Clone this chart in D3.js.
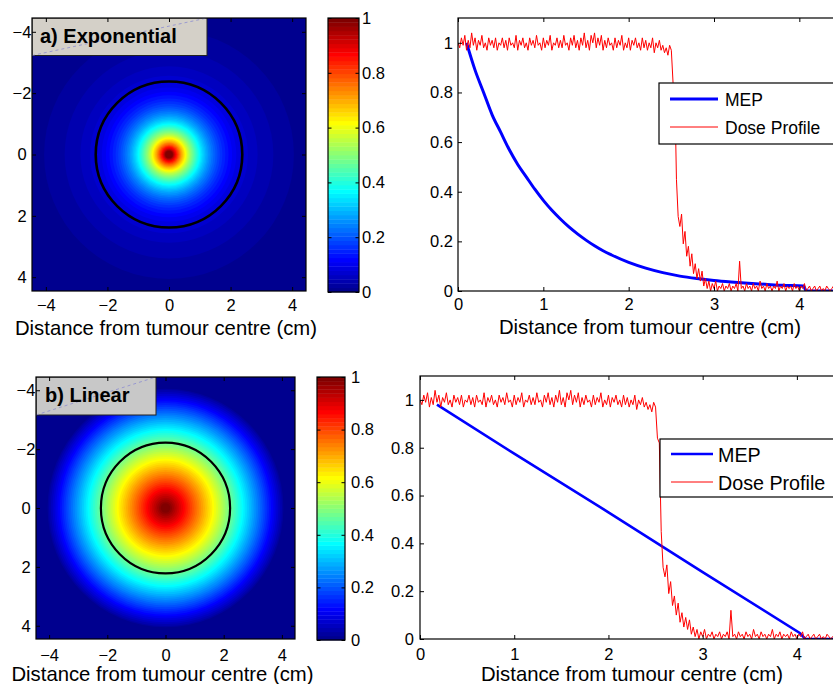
<!DOCTYPE html>
<html>
<head>
<meta charset="utf-8">
<script src="https://cdn.jsdelivr.net/npm/d3@7"></script>
<style>
  body { margin: 0; background: #fff; }
  svg { display: block; font-family: "Liberation Sans", Arial, Helvetica, sans-serif; }
</style>
</head>
<body>
<script>
// tick values
var heatTicks = [-4, -2, 0, 2, 4];
var barTicks = [0, 0.2, 0.4, 0.6, 0.8, 1];
var distTicks = [0, 1, 2, 3, 4];

// exponential MEP (radius cm, value)
var expR = [0.1, 0.2, 0.3, 0.4, 0.5, 0.6, 0.7, 0.8, 0.9, 1.0, 1.1, 1.2, 1.3, 1.4, 1.5, 1.6, 1.7, 1.8, 2.0, 2.2, 2.4, 2.6, 2.8, 3.0, 3.2, 3.4, 3.6, 3.8, 4.05, 4.08, 4.5];
var expV = [1.0, 0.89, 0.80, 0.71, 0.64, 0.57, 0.51, 0.46, 0.41, 0.365, 0.325, 0.29, 0.258, 0.23, 0.205, 0.182, 0.162, 0.145, 0.115, 0.092, 0.074, 0.06, 0.05, 0.042, 0.036, 0.031, 0.027, 0.023, 0.02, 0, 0];

// linear MEP
var linR = [0.18, 1, 2, 3, 4.03, 4.09, 4.5];
var linV = [0.98, 0.775, 0.53, 0.28, 0.025, 0, 0];

// dose profile, one value every 0.02 cm from 0 to 4.5
var doseStep = 0.02;
var dose = [
  1.00, 0.98, 1.02, 0.99, 1.03, 0.97, 1.01, 0.98, 1.04, 0.99,
  1.02, 0.97, 1.01, 0.99, 1.03, 0.98, 1.00, 0.97, 1.02, 0.99,
  1.01, 0.98, 1.02, 0.97, 1.00, 0.99, 1.02, 0.98, 1.01, 0.97,
  1.02, 0.99, 1.00, 0.98, 1.03, 0.97, 1.01, 0.99, 1.02, 0.98,
  1.00, 0.97, 1.02, 0.99, 1.01, 0.98, 1.03, 0.99, 1.00, 0.97,
  1.02, 0.98, 1.01, 0.99, 1.03, 0.97, 1.00, 0.99, 1.02, 0.98,
  1.01, 0.98, 1.03, 0.99, 1.00, 0.97, 1.02, 0.99, 1.03, 0.98,
  1.01, 0.97, 1.02, 0.99, 1.04, 0.98, 1.01, 0.97, 1.03, 1.00,
  1.04, 0.98, 1.02, 0.99, 1.03, 0.97, 1.01, 0.98, 1.02, 0.99,
  1.00, 0.97, 1.02, 0.98, 1.01, 0.99, 1.03, 0.97, 1.00, 0.98,
  1.02, 0.97, 1.01, 0.99, 1.02, 0.98, 1.00, 0.97, 1.02, 0.98,
  1.01, 0.97, 1.00, 0.98, 1.02, 0.96, 1.00, 0.98, 1.01, 0.97,
  0.99, 0.96, 0.98, 0.95, 0.99,
  0.97, 0.84, 0.82, 0.45, 0.30, 0.26, 0.31, 0.19, 0.24, 0.14,
  0.18, 0.10, 0.15, 0.07, 0.11, 0.05, 0.09, 0.04, 0.08, 0.02,
  0.05, 0.01, 0.04, 0.00, 0.03,
  0.01, 0.04, 0.00, 0.02, 0.01, 0.03, 0.00, 0.02, 0.01, 0.03,
  0.00, 0.02, 0.01, 0.03, 0.00, 0.12, 0.01, 0.02, 0.00, 0.03,
  0.01, 0.02, 0.00, 0.03, 0.01, 0.02, 0.00, 0.04, 0.01, 0.02,
  0.00, 0.03, 0.01, 0.02, 0.00, 0.02, 0.01, 0.04, 0.00, 0.02,
  0.01, 0.03, 0.00, 0.02, 0.01, 0.02, 0.00, 0.03, 0.01, 0.02,
  0.00, 0.02, 0.01, 0.03, 0.00, 0.01, 0.02, 0.00, 0.01, 0.02,
  0.00, 0.01, 0.02, 0.00, 0.01, 0.00, 0.02, 0.01, 0.00, 0.01,
  0.02, 0.00, 0.01, 0.00, 0.02, 0.01
];

// tumour outline radius (cm) for each panel
var tumourR = [2.38, 2.22];
var titles = ["a) Exponential", "b) Linear"];

var W = 833, H = 684;
var svg = d3.select("body").append("svg").attr("width", W).attr("height", H);
var fmt = d3.format("~g");

// MATLAB jet colormap with m levels
function jet(m) {
  var n = Math.ceil(m / 4);
  var u = [];
  for (var i = 1; i <= n; i++) u.push(i / n);
  for (var i = 1; i < n; i++) u.push(1);
  for (var i = n; i >= 1; i--) u.push(i / n);
  var g0 = Math.ceil(n / 2) - (m % 4 == 1 ? 1 : 0);
  var cols = [];
  for (var i = 0; i < m; i++) cols.push([0, 0, 0]);
  for (var j = 0; j < u.length; j++) {
    var g = g0 + j + 1, r = g + n, b = g - n;
    if (r >= 1 && r <= m) cols[r - 1][0] = u[j];
    if (g >= 1 && g <= m) cols[g - 1][1] = u[j];
    if (b >= 1 && b <= m) cols[b - 1][2] = u[j];
  }
  return cols.map(function(c) { return d3.rgb(c[0] * 255, c[1] * 255, c[2] * 255).formatHex(); });
}
var cmap = jet(64);

function styleAxis(g, size) {
  g.select(".domain").remove();
  g.selectAll("line").attr("stroke", "#000");
  g.selectAll("text").attr("fill", "#000").attr("font-size", size);
}

// heat map panel: image, outline circle, title box, colour bar
function drawHeat(p, R, V, idx) {
  var x = d3.scaleLinear().domain([-4.45, 4.45]).range([p.left, p.right]);
  var y = d3.scaleLinear().domain([-4.45, 4.45]).range([p.top, p.bottom]);

  // y labels go under the image, like the original
  var gl = svg.append("g").attr("transform", "translate(" + p.left + ",0)")
    .call(d3.axisLeft(y).tickValues(heatTicks).tickSize(0).tickPadding(10));
  styleAxis(gl, 16.5);
  gl.selectAll("text").attr("text-anchor", "middle");

  var clipId = "hclip" + idx;
  svg.append("clipPath").attr("id", clipId).append("rect")
    .attr("x", p.left).attr("y", p.top)
    .attr("width", p.right - p.left).attr("height", p.bottom - p.top);
  var img = svg.append("g").attr("clip-path", "url(#" + clipId + ")");
  img.append("rect").attr("x", p.left).attr("y", p.top)
    .attr("width", p.right - p.left).attr("height", p.bottom - p.top)
    .attr("fill", cmap[0]);

  // radius at which the profile falls to a given value
  var cut = V.indexOf(0) + 1;
  var inv = d3.scaleLinear().domain(V.slice(0, cut)).range(R.slice(0, cut));
  var levels = d3.range(1, 64);
  img.selectAll("ellipse.lvl").data(levels).enter().append("ellipse")
    .attr("class", "lvl")
    .attr("cx", x(0)).attr("cy", y(0))
    .attr("rx", function(k) { return Math.max(0, inv(k / 64)) * (x(1) - x(0)); })
    .attr("ry", function(k) { return Math.max(0, inv(k / 64)) * (y(1) - y(0)); })
    .attr("fill", function(k) { return cmap[k]; });

  img.append("ellipse")
    .attr("cx", x(0)).attr("cy", y(0))
    .attr("rx", tumourR[idx] * (x(1) - x(0))).attr("ry", tumourR[idx] * (y(1) - y(0)))
    .attr("fill", "none").attr("stroke", "#000").attr("stroke-width", p.circleW);

  // title box
  img.append("rect").attr("x", p.left).attr("y", p.top)
    .attr("width", p.boxW).attr("height", p.boxH)
    .attr("fill", p.boxFill).attr("stroke", "#222").attr("stroke-width", 1);
  img.append("line").attr("x1", p.left).attr("y1", p.top + p.boxH)
    .attr("x2", p.left + p.boxW).attr("y2", p.top)
    .attr("stroke", "#8c8cd0").attr("stroke-width", 0.8).attr("stroke-dasharray", "3,3");
  svg.append("text").attr("x", p.left + p.titleDx).attr("y", p.titleY)
    .attr("font-weight", "bold").attr("font-size", 20).text(titles[idx]);

  // frame and inward ticks
  svg.append("rect").attr("x", p.left).attr("y", p.top)
    .attr("width", p.right - p.left).attr("height", p.bottom - p.top)
    .attr("fill", "none").attr("stroke", "#000").attr("stroke-width", 1.2);
  var gb = svg.append("g").attr("transform", "translate(0," + p.bottom + ")")
    .call(d3.axisBottom(x).tickValues(heatTicks).tickSize(-4).tickPadding(p.xPad));
  styleAxis(gb, 16.5);
  var gt = svg.append("g").attr("transform", "translate(0," + p.top + ")")
    .call(d3.axisTop(x).tickValues(heatTicks).tickSize(-4).tickFormat(""));
  styleAxis(gt, 16.5);
  var gl2 = svg.append("g").attr("transform", "translate(" + p.left + ",0)")
    .call(d3.axisLeft(y).tickValues(heatTicks).tickSize(-4).tickFormat(""));
  styleAxis(gl2, 16.5);
  var gr = svg.append("g").attr("transform", "translate(" + p.right + ",0)")
    .call(d3.axisRight(y).tickValues(heatTicks).tickSize(-4).tickFormat(""));
  styleAxis(gr, 16.5);

  svg.append("text").attr("x", (p.left + p.right) / 2 - 3).attr("y", p.labelY)
    .attr("text-anchor", "middle").attr("font-size", 20.3)
    .text("Distance from tumour centre (cm)");

  // colour bar
  var cy = d3.scaleLinear().domain([0, 1]).range([p.cbBottom, p.top]);
  svg.append("g").selectAll("rect").data(d3.range(64)).enter().append("rect")
    .attr("x", p.cbLeft).attr("width", p.cbRight - p.cbLeft)
    .attr("y", function(k) { return cy((k + 1) / 64); })
    .attr("height", function(k) { return cy(k / 64) - cy((k + 1) / 64) + 0.4; })
    .attr("fill", function(k) { return cmap[k]; });
  svg.append("rect").attr("x", p.cbLeft).attr("y", p.top)
    .attr("width", p.cbRight - p.cbLeft).attr("height", p.cbBottom - p.top)
    .attr("fill", "none").attr("stroke", "#000").attr("stroke-width", 1.2);
  var cr = svg.append("g").attr("transform", "translate(" + p.cbRight + ",0)")
    .call(d3.axisRight(cy).tickValues(barTicks).tickSize(-3.5).tickPadding(p.cbPad).tickFormat(fmt));
  styleAxis(cr, 16.5);
  var cl = svg.append("g").attr("transform", "translate(" + p.cbLeft + ",0)")
    .call(d3.axisLeft(cy).tickValues(barTicks).tickSize(-3.5).tickFormat(""));
  styleAxis(cl, 16.5);
}

// radial profile panel with legend
function drawProfile(p, R, V, idx) {
  var x = d3.scaleLinear().domain([0, 4.5]).range([p.left, p.right]);
  var y = d3.scaleLinear().domain([0, 1.1]).range([p.bottom, p.top]);

  var clipId = "pclip" + idx;
  svg.append("clipPath").attr("id", clipId).append("rect")
    .attr("x", p.left).attr("y", p.top)
    .attr("width", p.right - p.left).attr("height", p.bottom - p.top);
  var plot = svg.append("g").attr("clip-path", "url(#" + clipId + ")");

  var mep = R.map(function(r, i) { return [r, V[i]]; });
  plot.append("path").datum(mep)
    .attr("d", d3.line().x(function(d) { return x(d[0]); }).y(function(d) { return y(d[1]); })
      .curve(p.curve))
    .attr("fill", "none").attr("stroke", "#0000ff").attr("stroke-width", p.mepW);

  plot.append("path").datum(dose)
    .attr("d", d3.line().x(function(d, i) { return x(i * doseStep); }).y(function(d) { return y(d); }))
    .attr("fill", "none").attr("stroke", "#ff0000").attr("stroke-width", 1);

  svg.append("rect").attr("x", p.left).attr("y", p.top)
    .attr("width", p.right - p.left).attr("height", p.bottom - p.top)
    .attr("fill", "none").attr("stroke", "#000").attr("stroke-width", 1.2);

  var gb = svg.append("g").attr("transform", "translate(0," + p.bottom + ")")
    .call(d3.axisBottom(x).tickValues(distTicks).tickSize(-4).tickPadding(p.xPad).tickFormat(fmt));
  styleAxis(gb, 16.5);
  var gt = svg.append("g").attr("transform", "translate(0," + p.top + ")")
    .call(d3.axisTop(x).tickValues(distTicks).tickSize(-4).tickFormat(""));
  styleAxis(gt, 16.5);
  var gl = svg.append("g").attr("transform", "translate(" + p.left + ",0)")
    .call(d3.axisLeft(y).tickValues(barTicks).tickSize(-4).tickPadding(p.yPad).tickFormat(fmt));
  styleAxis(gl, 16.5);

  svg.append("text").attr("x", (p.left + p.right) / 2).attr("y", p.labelY)
    .attr("text-anchor", "middle").attr("font-size", 20.3)
    .text("Distance from tumour centre (cm)");

  // legend
  var lg = p.legend;
  svg.append("rect").attr("x", lg.x).attr("y", lg.y).attr("width", 300).attr("height", lg.h)
    .attr("fill", "#fff").attr("stroke", "#000").attr("stroke-width", 1.2);
  var items = [["MEP", "#0000ff", p.mepW], ["Dose Profile", "#ff0000", 1]];
  items.forEach(function(it, i) {
    var ly = lg.row0 + i * lg.rowGap;
    svg.append("line").attr("x1", lg.x + 11).attr("x2", lg.lineEnd).attr("y1", ly).attr("y2", ly)
      .attr("stroke", it[1]).attr("stroke-width", it[2]);
    svg.append("text").attr("x", lg.textX).attr("y", ly + lg.font * 0.42)
      .attr("font-size", lg.font).text(it[0]);
  });
}

drawHeat({left: 32, right: 306, top: 18, bottom: 291, circleW: 2.6,
  boxW: 175, boxH: 37.5, boxFill: "#d4d0c8", titleDx: 8, titleY: 42.5,
  xPad: 8.3, labelY: 335, cbLeft: 328, cbRight: 359, cbBottom: 292, cbPad: 3}, expR, expV, 0);
drawProfile({left: 458, right: 842, top: 18, bottom: 291, mepW: 3, xPad: 7.5, yPad: 5, labelY: 334,
  curve: d3.curveMonotoneX,
  legend: {x: 659, y: 83, h: 61, row0: 99, rowGap: 28, lineEnd: 718, textX: 725, font: 17.5}}, expR, expV, 0);

drawHeat({left: 36, right: 295, top: 377, bottom: 639, circleW: 2.2,
  boxW: 120, boxH: 38, boxFill: "#c8c8c8", titleDx: 9, titleY: 401.5,
  xPad: 10, labelY: 681, cbLeft: 317, cbRight: 345, cbBottom: 640, cbPad: 6}, linR, linV, 1);
drawProfile({left: 420, right: 844, top: 376, bottom: 639, mepW: 2.6, xPad: 9.5, yPad: 6, labelY: 681,
  curve: d3.curveLinear,
  legend: {x: 660, y: 439, h: 58, row0: 454, rowGap: 28, lineEnd: 713, textX: 718, font: 19.7}}, linR, linV, 1);
</script>
</body>
</html>
